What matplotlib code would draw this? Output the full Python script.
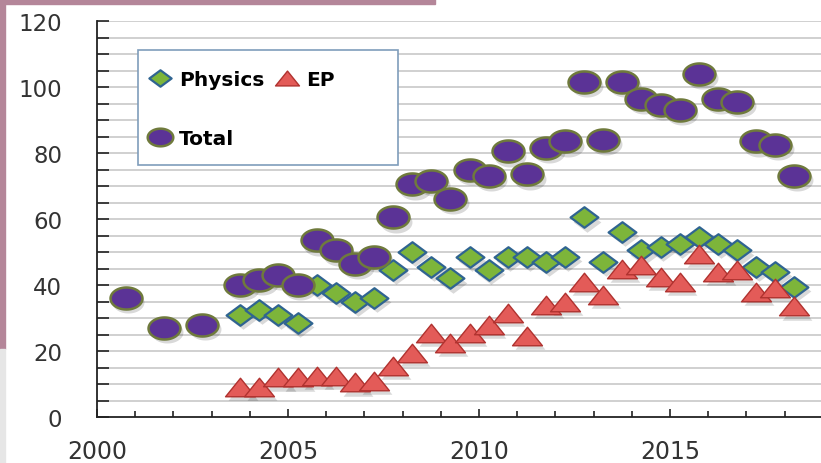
import numpy as np
import matplotlib.pyplot as plt
import matplotlib.transforms as mtransforms
from matplotlib.path import Path
from matplotlib.patches import Rectangle

# early years only have a total
early_years = [2000.75, 2001.75, 2002.75]
early_total = [36, 27, 28]

# half-year points
periods = [2003.75, 2004.25, 2004.75, 2005.25, 2005.75, 2006.25, 2006.75, 2007.25,
           2007.75, 2008.25, 2008.75, 2009.25, 2009.75, 2010.25, 2010.75, 2011.25,
           2011.75, 2012.25, 2012.75, 2013.25, 2013.75, 2014.25, 2014.75, 2015.25,
           2015.75, 2016.25, 2016.75, 2017.25, 2017.75, 2018.25]
physics = [31, 32.5, 31, 28.5, 40, 37.5, 35, 36, 44.5, 50, 45.5, 42, 48.5, 44.5, 48.5, 48.5,
           47, 48.5, 60.5, 47, 56, 50.5, 51.5, 52.5, 54.5, 52.5, 50.5, 45.5, 44, 39.5]
ep = [9, 9, 12, 12, 12.5, 12.5, 10.5, 11, 15.5, 19.5, 25.5, 22.5, 25.5, 28, 31.5, 24.5,
      34, 35, 41, 37, 45, 46, 42.5, 41, 49.5, 44, 44.5, 38, 39, 33.5]
total = [40, 41.5, 43, 40, 53.5, 50.5, 46.5, 48.5, 60.5, 70.5, 71.5, 66, 75, 73, 80.5, 73.5,
         81.5, 83.5, 101.5, 84, 101.5, 96.5, 94.5, 93, 104, 96.5, 95.5, 83.5, 82.5, 73]

x_ticks = [2000, 2005, 2010, 2015]
y_ticks = [0, 20, 40, 60, 80, 100, 120]

# wide marker shapes (the original chart is stretched sideways)
t = np.linspace(0, 2 * np.pi, 61)
ellipse = Path(np.column_stack([np.cos(t), 0.69 * np.sin(t)]), closed=True)
diamond = Path([(-1, 0), (0, 0.74), (1, 0), (0, -0.74), (-1, 0)], closed=True)
triangle = Path([(-1, -0.62), (1, -0.62), (0, 0.62), (-1, -0.62)], closed=True)

fig = plt.figure(figsize=(8.21, 4.64), dpi=100)
fig.patch.set_facecolor('white')
# bits of the slide behind the chart
fig.patches.append(Rectangle((0, 0.99), 0.53, 0.011, transform=fig.transFigure,
                             color='#b48699', zorder=0))
fig.patches.append(Rectangle((0, 0.245), 0.006, 0.76, transform=fig.transFigure,
                             color='#b48699', zorder=0))
fig.patches.append(Rectangle((0, 0.0), 0.006, 0.245, transform=fig.transFigure,
                             color='#e6e6e6', zorder=0))

ax = fig.add_axes([97 / 821, 46 / 464, 724 / 821, 396 / 464])
ax.set_xlim(2000, 2018.95)
ax.set_ylim(0, 120)

for yv in range(5, 121, 5):
    ax.axhline(yv, color='#c4c4c4', lw=1.1, zorder=1)

shadow = mtransforms.ScaledTranslation(2 / 72, -3 / 72, fig.dpi_scale_trans)
sh = dict(ls='none', color='k', alpha=0.15, mew=0, transform=ax.transData + shadow, zorder=2)
ax.plot(periods, physics, marker=diamond, ms=20, **sh)
ax.plot(periods, ep, marker=triangle, ms=21.5, **sh)
ax.plot(early_years + periods, early_total + total, marker=ellipse, ms=23, **sh)

ax.plot(periods, physics, ls='none', marker=diamond, ms=20, mfc='#7db53a', mec='#2f6491',
        mew=1.6, zorder=4, label='Physics')
ax.plot(periods, ep, ls='none', marker=triangle, ms=21.5, mfc='#e35b58', mec='#b0322f',
        mew=1.0, zorder=4, label='EP')
ax.plot(early_years + periods, early_total + total, ls='none', marker=ellipse, ms=23,
        mfc='#5b3396', mec='#6f7a3c', mew=1.8, zorder=5, label='Total')

for side in ['top', 'right']:
    ax.spines[side].set_visible(False)
for side in ['left', 'bottom']:
    ax.spines[side].set_color('#222222')
    ax.spines[side].set_linewidth(1.3)
    ax.spines[side].set_zorder(6)

ax.set_yticks(y_ticks)
ax.set_yticks(range(0, 121, 5), minor=True)
ax.set_xticks(x_ticks)
ax.set_xticks(range(2000, 2019), minor=True)
ax.tick_params(axis='y', which='both', direction='in', length=8.5, width=1.2,
               color='#222222', pad=25, labelsize=16.5, labelcolor='#333333')
ax.tick_params(axis='x', which='major', direction='in', length=6, width=1.2,
               color='#222222', pad=16, labelsize=17, labelcolor='#333333')
ax.tick_params(axis='x', which='minor', direction='in', length=4, width=1.2, color='#222222')

# legend box
ax.add_patch(Rectangle((0.0566, 0.636), 0.359, 0.291, transform=ax.transAxes,
                       facecolor='white', edgecolor='#7f9dbb', lw=1.2, zorder=7))
h, l = ax.get_legend_handles_labels()
leg = ax.legend([h[0], h[2], h[1]], [l[0], l[2], l[1]], ncol=2, frameon=False,
                loc='upper left', bbox_to_anchor=(0.069, 0.875), borderpad=0,
                borderaxespad=0, markerscale=0.8, handlelength=1.3, handletextpad=0.3,
                columnspacing=0.45, labelspacing=1.95,
                prop={'weight': 'bold', 'size': 14.5})
leg.set_zorder(8)

fig.savefig('out.png', dpi=100, facecolor=fig.get_facecolor())
